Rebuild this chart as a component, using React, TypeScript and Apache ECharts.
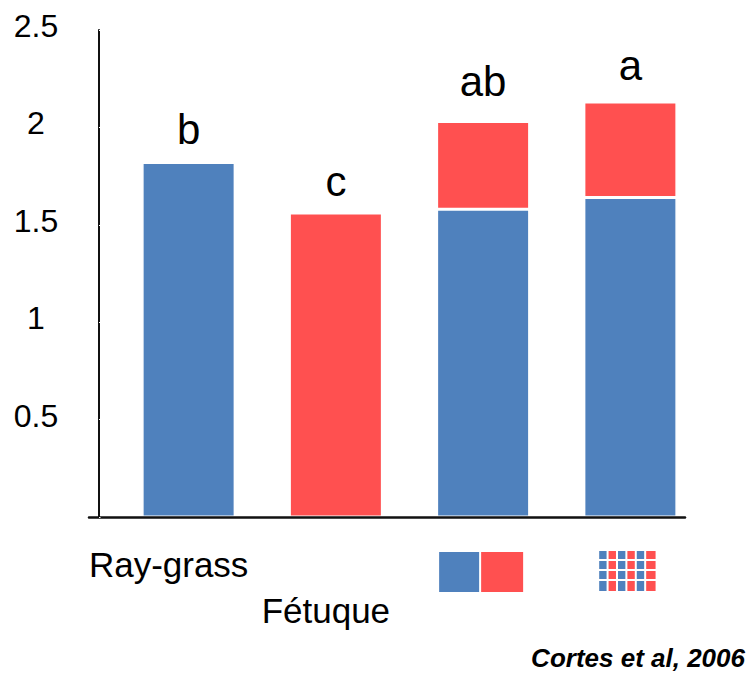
import React, { useEffect, useRef } from 'react';
import * as echarts from 'echarts';

// ---- data ----
const categories = ['Ray-grass', 'Fétuque', 'Rangs alternés', 'Mélange intime'];
const rayGrass: (number | null)[] = [1.82, null, 1.58, 1.64];
const fetuque: (number | null)[] = [null, 1.56, 0.45, 0.49];
const letters = ['b', 'c', 'ab', 'a'];
const yMin = 0;
const yMax = 2.5;
const yInterval = 0.5;
const citation = 'Cortes et al, 2006';

const BLUE = '#4F81BD';
const RED = '#FF5050';
const FONT = '"Liberation Sans", Arial, sans-serif';

export default function App() {
  const ref = useRef<HTMLDivElement>(null);
  useEffect(() => {
    const chart = echarts.init(ref.current!, null, { renderer: 'svg' });
    const patternRow = '{pb|}{pr|}{pb|}{pr|}{pb|}{pr|}';
    const pattern = [patternRow, patternRow, patternRow, patternRow].join('\n');
    const catPads = [
      [0, 40, 0, 0],
      [46, 20, 0, 0],
      [8, 4, 0, 0],
      [7, 6, 0, 0],
    ];
    const labelDist = [12, 11, 19, 16];
    const labelStyle = {
      position: 'top',
      fontSize: 42,
      color: '#000',
      fontFamily: FONT,
    };
    const option: any = {
      animation: false,
      backgroundColor: '#fff',
      grid: [
        { left: 115, right: 45, top: 30, bottom: 157 },
        { left: 89, right: 64, top: 30, bottom: 157 },
      ],
      xAxis: [
        {
          type: 'category',
          gridIndex: 0,
          data: categories.map((c, i) => ({ value: c, textStyle: { padding: catPads[i] } })),
          axisLine: { show: false },
          axisTick: { show: false },
          axisLabel: {
            interval: 0,
            margin: 27,
            color: '#000',
            fontSize: 35,
            lineHeight: 40,
            fontFamily: FONT,
            formatter: (value: string, index: number) => {
              if (index === 2) return '{b|}{r|}';
              if (index === 3) return pattern;
              return value;
            },
            rich: {
              b: { width: 42, height: 40, lineHeight: 40, backgroundColor: BLUE, borderColor: '#fff', borderWidth: 2 },
              r: { width: 42, height: 40, lineHeight: 40, backgroundColor: RED, borderColor: '#fff', borderWidth: 2 },
              pb: { width: 9.4, height: 10, lineHeight: 10, backgroundColor: BLUE, borderColor: '#fff', borderWidth: 2 },
              pr: { width: 9.4, height: 10, lineHeight: 10, backgroundColor: RED, borderColor: '#fff', borderWidth: 2 },
            },
          },
        },
        {
          type: 'value',
          gridIndex: 1,
          min: 0,
          max: 1,
          z: 10,
          axisLine: { show: true, lineStyle: { color: '#111', width: 2.5 } },
          axisTick: { show: false },
          axisLabel: { show: false },
          splitLine: { show: false },
        },
      ],
      yAxis: [
        {
          type: 'value',
          gridIndex: 0,
          min: yMin,
          max: yMax,
          interval: yInterval,
          offset: 16,
          z: 10,
          axisLine: { show: true, lineStyle: { color: '#111', width: 2 } },
          axisTick: { show: true, inside: true, length: 1.5, lineStyle: { color: '#fff', width: 1 } },
          splitLine: { show: false },
          axisLabel: {
            align: 'center',
            verticalAlign: 'bottom',
            lineHeight: 8,
            margin: 63,
            color: '#000',
            fontSize: 32,
            fontFamily: FONT,
            formatter: (v: number) => (v === 0 ? '' : String(v)),
          },
        },
        {
          type: 'value',
          gridIndex: 1,
          min: yMin,
          max: yMax,
          show: false,
        },
      ],
      series: [
        {
          name: 'Ray-grass',
          type: 'bar',
          stack: 'total',
          barWidth: 93,
          itemStyle: { color: BLUE, borderColor: '#fff', borderWidth: 1.5 },
          label: labelStyle,
          data: rayGrass.map((v, i) =>
            v == null
              ? '-'
              : { value: v, label: { show: fetuque[i] == null, formatter: letters[i], distance: labelDist[i] } }
          ),
        },
        {
          name: 'Fétuque',
          type: 'bar',
          stack: 'total',
          barWidth: 93,
          itemStyle: { color: RED, borderColor: '#fff', borderWidth: 1.5 },
          label: labelStyle,
          data: fetuque.map((v, i) =>
            v == null ? '-' : { value: v, label: { show: true, formatter: letters[i], distance: labelDist[i] } }
          ),
        },
      ],
      graphic: [
        {
          type: 'text',
          right: 4,
          top: 645,
          style: {
            text: citation,
            font: 'italic bold 26px ' + FONT,
            fill: '#000',
          },
        },
      ],
    };
    chart.setOption(option);
    return () => chart.dispose();
  }, []);
  return <div ref={ref} style={{ position: 'fixed', left: 0, top: 0, width: 749, height: 674 }} />;
}
